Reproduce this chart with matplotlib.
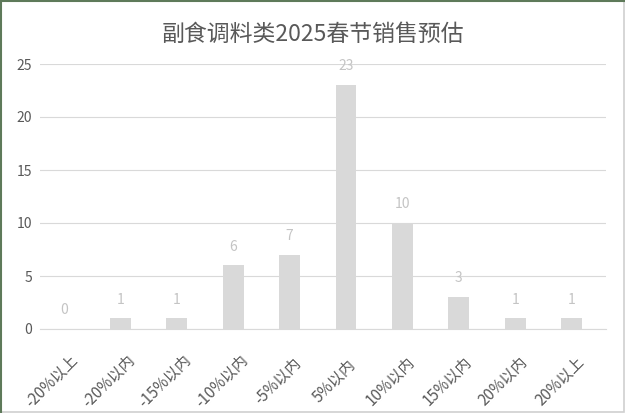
import matplotlib
matplotlib.use("Agg")
import matplotlib.pyplot as plt
from matplotlib.patches import Rectangle
from matplotlib.lines import Line2D
from matplotlib.transforms import ScaledTranslation
import numpy as np

plt.rcParams["font.family"] = ["Noto Sans CJK SC", "DejaVu Sans"]

TITLE = "副食调料类2025春节销售预估"
categories = ["-20%以上", "-20%以内", "-15%以内", "-10%以内", "-5%以内",
              "5%以内", "10%以内", "15%以内", "20%以内", "20%以上"]
counts = [0, 1, 1, 6, 7, 23, 10, 3, 1, 1]

BAR_COLOR = "#d9d9d9"
GRID_COLOR = "#d9d9d9"
TEXT_COLOR = "#595959"
LABEL_COLOR = "#c4c4c4"

fig = plt.figure(figsize=(6.25, 4.13), dpi=100)
ax = fig.add_axes([40 / 625, 1 - 329 / 413, 566 / 625, 265 / 413])

x = np.arange(len(categories))
bars = ax.bar(x, counts, width=0.37, color=BAR_COLOR, zorder=2)

# value labels above bars
for b, v in zip(bars, counts):
    ax.annotate(str(v), (b.get_x() + b.get_width() / 2, v),
                xytext=(0, 13.5), textcoords="offset points",
                ha="center", va="center", fontsize=10, color=LABEL_COLOR)

ax.set_xlim(-0.426, 9.61)
ax.set_ylim(0, 25)
ax.set_yticks(range(0, 26, 5))
ax.yaxis.grid(True, color=GRID_COLOR, linewidth=0.8, zorder=0)
ax.set_axisbelow(True)
for s in ["top", "right", "left"]:
    ax.spines[s].set_visible(False)
ax.spines["bottom"].set_color(GRID_COLOR)
ax.tick_params(axis="both", length=0, colors=TEXT_COLOR)
ax.tick_params(axis="y", pad=5.8, labelsize=10)
ax.tick_params(axis="x", pad=0, labelsize=11)
ax.set_xticks(x)
ax.set_xticklabels(categories, rotation=45, ha="center", va="center",
                   rotation_mode="anchor")
offset = ScaledTranslation(-0.12, -0.52, fig.dpi_scale_trans)
for lbl in ax.get_xticklabels():
    lbl.set_transform(lbl.get_transform() + offset)

fig.text(0.5, 1 - 34 / 413, TITLE, ha="center", va="center",
         fontsize=16.5, color=TEXT_COLOR)

# outer borders
fig.patches.append(Rectangle((0.002, 0.002), 0.996, 0.996, transform=fig.transFigure,
                             fill=False, edgecolor="#d0d0d0", linewidth=1.2))
fig.lines.append(Line2D([0.002, 0.002], [0, 1], transform=fig.transFigure,
                        color="#5e7a5a", linewidth=1.5))
fig.lines.append(Line2D([0, 1], [0.998, 0.998], transform=fig.transFigure,
                        color="#5e7a5a", linewidth=1.5))

fig.savefig("out.png", dpi=100)
